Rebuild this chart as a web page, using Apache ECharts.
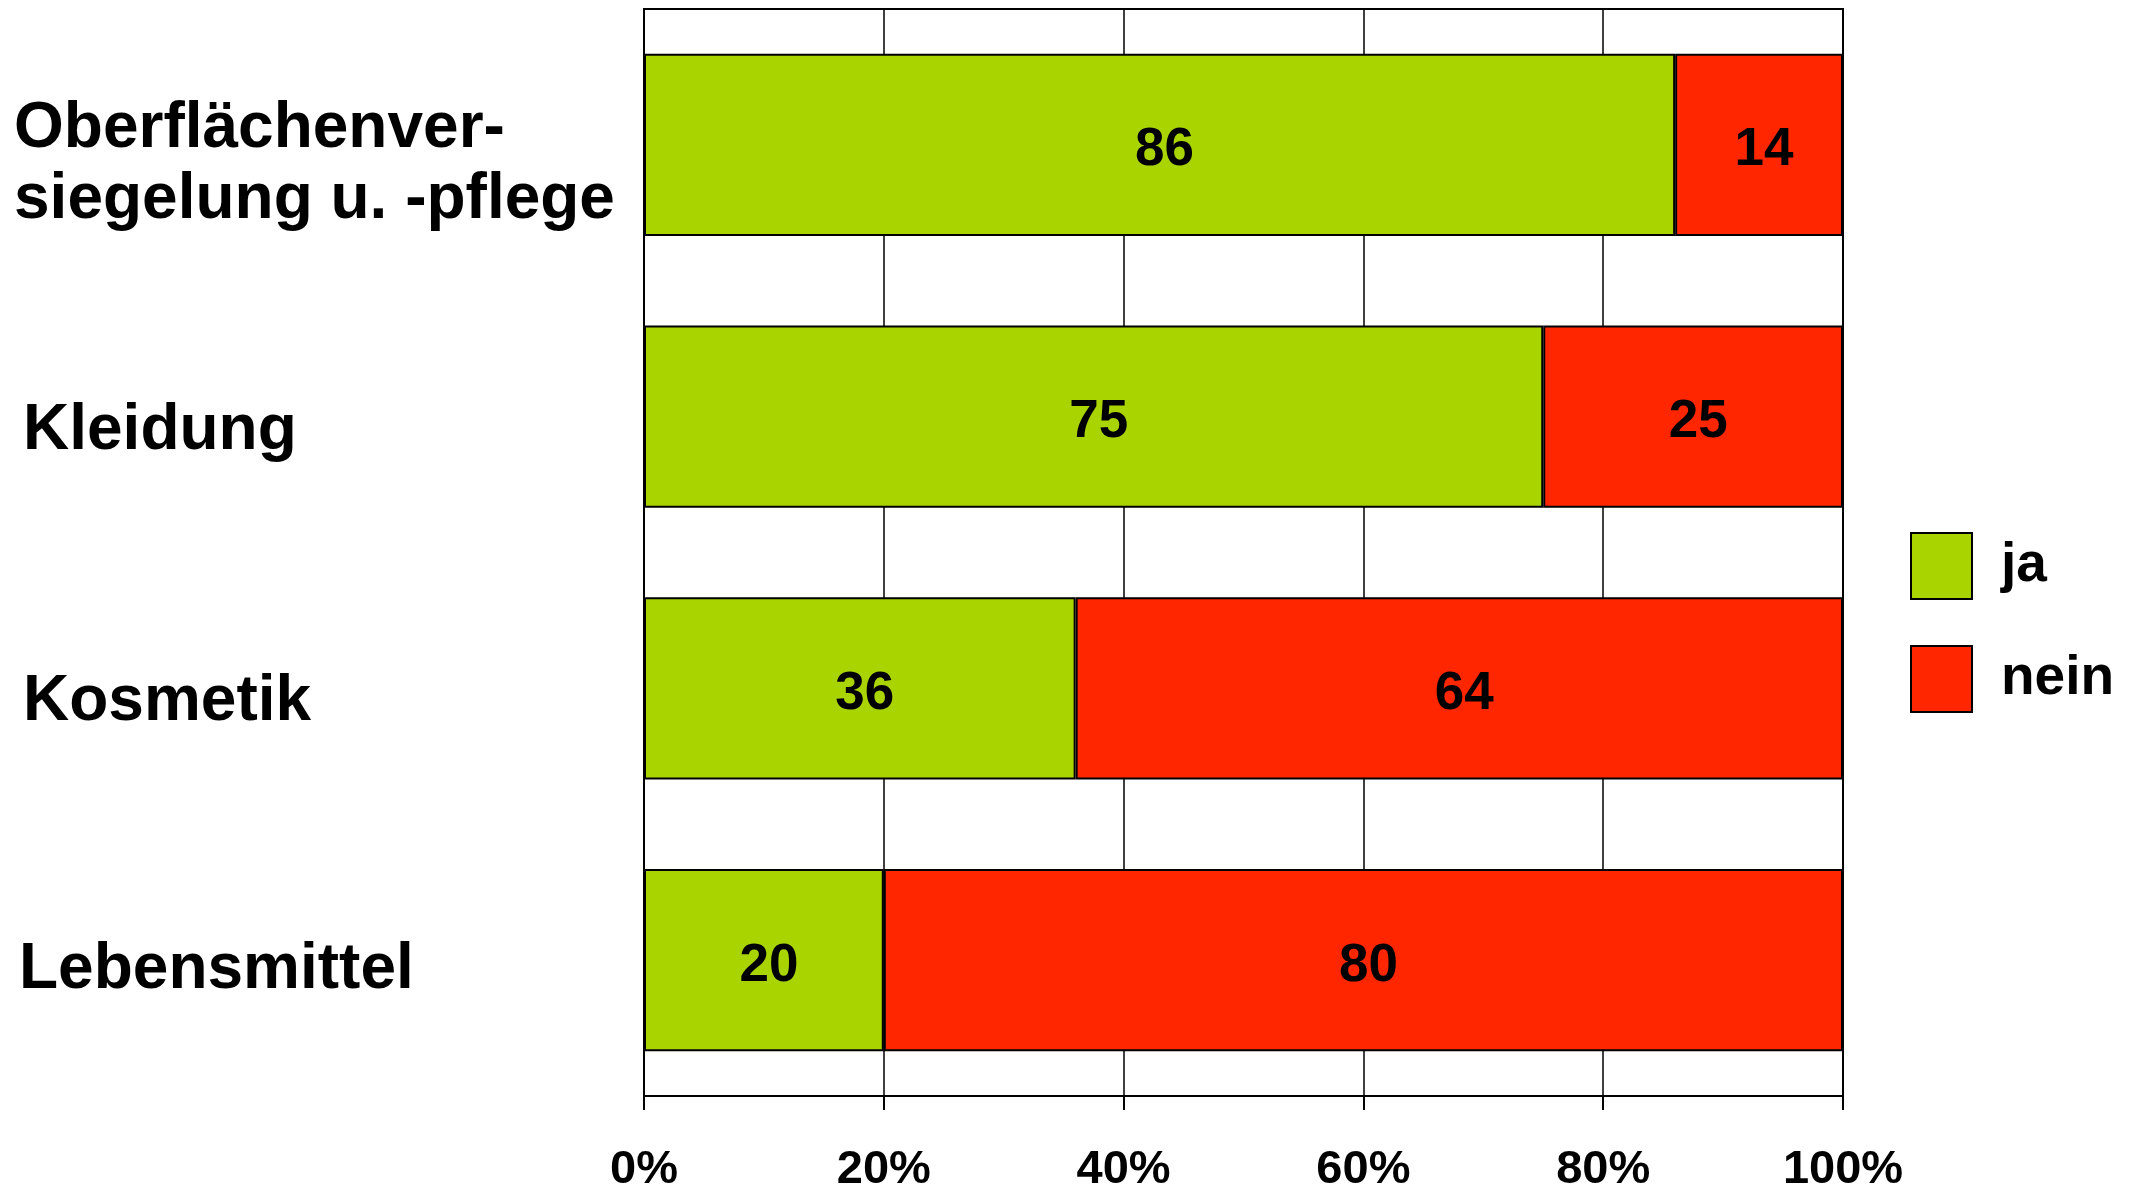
<!DOCTYPE html>
<html>
<head>
<meta charset="utf-8">
<script src="https://cdn.jsdelivr.net/npm/echarts@6/dist/echarts.min.js"></script>
<style>
html,body{margin:0;padding:0;background:#fff;}
#chart{width:2141px;height:1188px;}
</style>
</head>
<body>
<div id="chart"></div>
<script>
const categories = ['Oberflächenver-\nsiegelung u. -pflege', 'Kleidung', 'Kosmetik', 'Lebensmittel'];
const jaValues = [86, 75, 36, 20];
const neinValues = [14, 25, 64, 80];
const seriesNames = ['ja', 'nein'];
const xTicks = [0, 20, 40, 60, 80, 100];

const FONT = '"Liberation Sans", Arial, sans-serif';
const chart = echarts.init(document.getElementById('chart'));

const padLeft = [0, 9, 9, 5];
const spacerKeys = ['s0', 's1', 's2', 's3'];
const catData = categories.map((c, i) => ({
  value: c,
  textStyle: { align: 'left', padding: [0, 0, 0, padLeft[i]] }
}));

const labelStyle = {
  show: true,
  position: 'inside',
  offset: [5, 6],
  color: '#000',
  fontFamily: FONT,
  fontWeight: 'bold',
  fontSize: 53
};

const tStyle = { color: '#000', fontFamily: FONT, fontWeight: 'bold', fontSize: 64, lineHeight: 71 };

chart.setOption({
  animation: false,
  backgroundColor: '#fff',
  grid: {
    left: 644, top: 9, width: 1199, height: 1087,
    containLabel: false, outerBoundsMode: 'none',
    show: true, borderColor: '#000', borderWidth: 2, backgroundColor: 'transparent'
  },
  legend: {
    orient: 'vertical',
    left: 1905, top: 527,
    itemWidth: 61, itemHeight: 66, itemGap: 45,
    icon: 'rect',
    data: seriesNames,
    itemStyle: { borderColor: '#000', borderWidth: 2 },
    textStyle: {
      color: '#000', fontFamily: FONT, fontWeight: 'bold', fontSize: 55,
      padding: [0, 0, 0, 24]
    }
  },
  xAxis: {
    type: 'value',
    min: xTicks[0], max: xTicks[xTicks.length - 1], interval: 20,
    axisLine: { show: true, lineStyle: { color: '#000', width: 2 } },
    axisTick: { show: true, length: 14, lineStyle: { color: '#000', width: 2 } },
    splitLine: { show: true, lineStyle: { color: '#000', width: 1.5 } },
    axisLabel: {
      formatter: '{value}%', color: '#000', fontFamily: FONT, fontWeight: 'bold',
      fontSize: 47, margin: 51
    }
  },
  yAxis: {
    type: 'category',
    inverse: true,
    data: catData,
    axisLine: { show: true, lineStyle: { color: '#000', width: 2 } },
    axisTick: { show: false },
    splitLine: { show: false },
    axisLabel: {
      align: 'left', margin: 630,
      color: '#000', fontFamily: FONT, fontWeight: 'bold', fontSize: 64,
      lineHeight: 71,
      formatter: function (value, index) {
        const lines = String(value).split('\n').map(l => '{t|' + l + '}');
        return '{' + spacerKeys[index] + '| }\n' + lines.join('\n');
      },
      rich: {
        t: tStyle,
        s0: { fontSize: 4, lineHeight: 40 },
        s1: { fontSize: 4, lineHeight: 30 },
        s2: { fontSize: 4, lineHeight: 28 },
        s3: { fontSize: 4, lineHeight: 20 }
      }
    }
  },
  series: [
    {
      name: seriesNames[0], type: 'bar', stack: 'total', data: jaValues,
      barCategoryGap: '33%',
      itemStyle: { color: '#AAD400', borderColor: '#000', borderWidth: 2 },
      label: labelStyle
    },
    {
      name: seriesNames[1], type: 'bar', stack: 'total', data: neinValues,
      barCategoryGap: '33%',
      itemStyle: { color: '#FF2600', borderColor: '#000', borderWidth: 2 },
      label: labelStyle
    }
  ]
});
</script>
</body>
</html>
